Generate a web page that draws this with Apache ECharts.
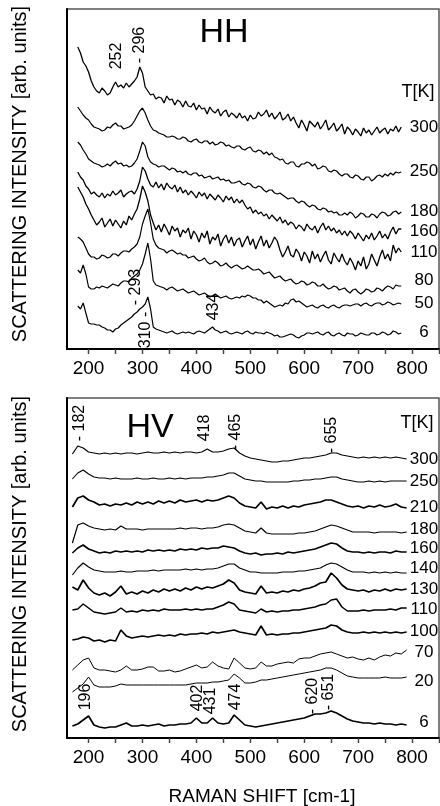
<!DOCTYPE html>
<html><head><meta charset="utf-8">
<script src="https://cdn.jsdelivr.net/npm/echarts@6/dist/echarts.min.js"></script>
<style>html,body{margin:0;padding:0;background:#fff}#c{width:440px;height:806px}</style>
</head><body><div id="c"></div>
<script>
// ---------- HH panel (Raman shift, cm-1, step 5) ----------
const hhShift = [180,185,190,195,200,205,210,215,220,225,230,235,240,245,250,255,260,265,270,275,
 280,285,290,295,300,305,310,315,320,325,330,335,340,345,350,355,360,365,370,375,
 380,385,390,395,400,405,410,415,420,425,430,435,440,445,450,455,460,465,470,475,
 480,485,490,495,500,505,510,515,520,525,530,535,540,545,550,555,560,565,570,575,
 580,585,590,595,600,605,610,615,620,625,630,635,640,645,650,655,660,665,670,675,
 680,685,690,695,700,705,710,715,720,725,730,735,740,745,750,755,760,765,770,775,780];
const hhT = ['300','250','180','160','110','80','50','6'];
const hh300 = [302,296,287,283,277,268,262,258,256,261,258,254,256,262,267,262,264,261,266,262,
 265,268,272,282,276,262,258,254,255,250,252,251,246,253,249,250,244,249,247,242,
 248,243,242,246,239,244,240,241,235,242,238,236,240,233,237,239,232,236,234,231,
 236,231,233,228,234,230,231,237,233,235,239,232,236,230,233,237,229,231,235,228,
 232,226,221,229,224,218,228,225,222,227,220,224,229,219,222,226,218,221,225,215,
 222,219,214,220,217,213,221,216,219,214,218,222,216,219,221,215,220,218,223,217,222];
const hh250 = [242,238,234,231,229,225,222,221,220,218,219,222,221,224,226,223,223,220,221,222,
 224,228,233,238,241,236,229,223,219,218,216,215,214,212,212,213,212,210,210,212,
 211,208,207,209,210,207,206,208,208,205,207,204,205,207,206,203,204,202,201,203,
 203,200,199,201,202,198,197,199,198,195,197,194,196,192,191,189,190,186,185,187,
 187,183,182,185,185,187,186,183,185,180,181,183,182,178,177,179,178,175,173,175,
 175,172,171,174,173,170,169,172,172,168,170,173,174,172,175,173,176,174,177,176,177];
const hh180 = [207,204,199,195,190,188,186,185,184,182,183,185,183,186,188,185,186,183,184,182,
 183,186,190,198,207,203,192,187,185,184,182,183,183,181,179,181,180,177,178,176,
 178,175,174,176,176,173,174,171,172,173,170,171,172,169,170,168,169,166,166,167,
 168,165,164,166,165,162,161,163,162,159,157,159,159,156,155,156,154,152,150,151,
 151,148,146,148,147,144,142,144,143,140,139,141,140,137,138,136,137,134,134,136,
 134,137,135,131,133,136,135,132,132,135,134,131,135,137,136,133,134,137,138,135,137];
const hh160 = [177,172,169,163,160,155,157,154,152,156,151,155,153,158,154,156,159,152,155,157,
 158,155,160,168,182,178,170,164,162,167,161,165,159,166,162,160,164,157,162,156,
 159,154,158,155,151,157,153,156,150,155,152,149,154,151,147,153,149,152,146,150,
 146,149,144,140,142,136,139,135,137,133,135,130,134,131,128,132,126,129,124,127,
 125,120,124,122,118,125,121,119,123,116,122,126,119,123,118,121,116,119,114,118,
 113,118,115,110,116,112,108,114,110,116,109,113,118,111,115,110,117,122,115,120,120];
const hh110 = [162,157,152,145,140,134,129,124,127,131,122,126,130,123,129,125,121,128,124,133,
 129,135,140,150,163,157,148,134,126,119,124,117,125,120,114,123,118,121,112,119,
 116,121,110,118,114,107,116,111,118,105,112,109,115,103,110,114,106,112,103,109,
 111,102,108,113,104,110,100,107,113,103,109,101,106,112,108,99,92,97,103,94,
 92,100,96,88,97,93,86,98,90,95,87,93,98,89,85,96,91,87,95,88,
 84,91,86,79,88,83,92,80,85,95,89,83,92,99,90,95,88,104,96,101,97];
const hh80 = [112,110,107,101,95,92,92,90,91,94,93,91,92,95,95,93,96,98,98,97,
 100,102,105,112,125,133,140,126,110,104,101,100,99,96,98,99,97,95,96,94,
 94,91,92,93,90,88,89,91,87,85,86,88,86,83,84,86,83,81,83,84,
 82,80,81,83,81,79,79,80,78,75,76,77,74,71,72,73,70,68,69,70,
 67,65,66,68,67,64,65,67,66,63,63,65,62,60,61,63,62,59,60,61,
 58,56,59,60,57,55,57,60,59,57,58,61,60,58,61,63,62,60,64,63,63];
const hh50 = [79,76,84,75,62,60,60,62,61,63,62,61,63,65,64,63,66,68,68,67,
 71,73,75,79,85,95,106,90,68,64,63,62,61,59,61,62,60,58,59,60,
 58,56,57,58,56,54,55,56,54,52,53,55,53,51,52,53,51,50,51,52,
 51,53,52,54,53,51,51,49,49,46,48,46,44,42,43,44,43,46,45,49,
 50,47,48,46,44,42,43,44,42,41,43,44,42,41,43,44,42,41,43,44,
 44,43,44,45,45,43,45,46,44,43,45,46,46,44,45,47,46,44,45,46,45];
const hh6 = [43,40,46,36,26,25,25,24,24,22,21,19,19,17,20,21,24,26,28,30,
 32,35,37,40,42,45,52,40,22,20,19,18,17,16,17,18,16,15,16,17,
 16,17,16,15,17,18,17,16,18,20,22,19,18,16,17,18,16,15,16,17,
 16,15,17,18,16,15,17,16,16,15,17,16,15,13,14,12,12,13,14,15,
 14,12,11,13,14,16,16,15,16,17,15,14,16,17,14,13,15,16,14,13,
 16,15,15,13,14,16,15,14,14,16,16,14,15,17,16,14,15,18,17,15,16];

// ---------- HV panel (step 10) ----------
const hvShift = [170,180,190,200,210,220,230,240,250,260,270,280,290,300,310,320,330,340,350,360,370,380,390,400,410,420,430,440,450,460,470,480,490,500,510,520,530,540,550,560,570,580,590,600,610,620,630,640,650,660,670,680,690,700,710,720,730,740,750,760,770,780,790];
const hvT = ['300','250','210','180','160','140','130','110','100','70','20','6'];
const hv300 = [284,292,290,286,285,284,285,284,285,284, 285,285,284,285,286,285,285,286,285,286, 285,286,286,285,286,289,286,286,287,289, 290,285,282,280,279,278,277,276,276,277, 277,278,279,280,280,281,282,283,285,285, 283,282,281,280,281,280,281,280,281,280, 281,280,279];
const hv250 = [259,265,268,264,261,260,260,259,260,259, 259,259,260,259,259,260,259,259,260,259, 260,259,260,260,260,261,261,262,263,265, 265,262,259,258,257,257,256,256,256,256, 256,257,257,258,258,259,259,260,261,261, 259,258,257,256,256,257,256,257,256,257, 257,257,257];
const hv210 = [231,240,242,238,236,233,234,232,234,233, 235,233,236,234,236,234,237,235,237,235, 238,236,237,238,236,238,237,238,240,242, 240,235,232,231,230,236,229,231,230,232, 230,232,231,233,234,235,236,238,238,236, 234,232,231,232,230,232,231,233,231,232, 234,231,230];
const hv180 = [195,213,215,212,210,209,208,209,208,212, 209,209,209,208,209,209,209,209,209,209, 210,209,210,210,209,210,210,211,213,214, 213,210,207,206,205,210,205,204,204,204, 204,204,205,205,206,207,209,211,213,212, 210,208,206,206,206,206,205,206,206,206, 206,205,206];
const hv160 = [185,190,193,189,187,185,186,185,187,186, 187,186,187,186,188,187,188,187,188,187, 189,188,189,188,190,189,190,190,192,191, 190,187,185,184,185,183,184,184,185,184, 186,185,186,187,188,189,191,193,195,194, 190,187,186,186,185,186,185,186,186,185, 187,186,186];
const hv140 = [163,170,175,171,168,167,166,166,166,167, 166,166,167,167,167,168,167,168,168,168, 168,169,168,169,168,169,169,170,172,174, 174,170,168,166,166,165,165,165,165,166, 166,166,167,167,168,169,170,173,175,174, 171,168,166,166,166,165,166,165,166,165, 166,165,165];
const hv130 = [151,148,158,150,145,143,145,142,146,152, 144,146,144,147,145,148,146,149,147,149, 147,150,148,151,149,151,150,152,154,158, 155,148,146,145,144,152,145,146,145,147, 146,148,147,149,150,152,155,156,165,160, 153,149,148,147,148,146,148,147,149,147, 149,148,149];
const hv110 = [128,129,134,130,126,125,124,125,126,130, 126,127,126,128,127,128,127,129,128,128, 128,129,128,129,128,129,129,131,133,136, 134,128,127,126,125,129,126,127,126,127, 127,128,128,129,130,131,133,134,138,139, 131,127,127,127,128,127,128,128,128,129, 128,130,130];
const hv100 = [98,99,101,100,97,98,96,98,97,108, 102,100,101,102,101,102,103,102,103,102, 104,103,104,104,105,104,106,105,106,107, 108,106,105,104,103,112,103,104,103,104, 104,105,105,106,107,108,109,110,113,112, 108,106,105,105,106,105,106,105,106,105, 106,105,106];
const hv70 = [68,73,78,80,70,68,68,67,66,68, 72,68,68,69,71,71,67,67,68,66, 67,69,71,73,70,71,76,72,70,69, 80,75,70,69,70,76,72,72,74,75, 76,75,79,80,80,82,84,85,86,84, 82,80,81,79,78,80,78,81,83,82, 85,84,88];
const hv20 = [46,50,54,61,53,51,51,51,52,54, 53,53,53,53,53,53,53,53,53,53, 53,53,54,55,55,55,56,56,57,58, 64,60,55,55,56,58,58,59,60,61, 62,63,64,65,66,67,68,70,70,68, 65,62,61,60,60,60,60,60,61,60, 60,60,61];
const hv6 = [12,14,18,22,13,11,10,11,11,13, 15,12,12,13,12,13,14,12,13,13, 14,14,15,20,15,15,20,15,14,15, 23,18,13,12,11,12,13,14,15,16, 17,18,19,20,22,24,24,25,27,25, 22,19,17,16,15,15,14,15,14,14, 13,14,13];

const tickVals = [200,250,300,350,400,450,500,550,600,650,700,750,800,850];
const labelVals = [200,300,400,500,600,700,800];

const FONT = "'Liberation Sans', Arial, sans-serif";
const hhCurves = [hh300,hh250,hh180,hh160,hh110,hh80,hh50,hh6];
const hvCurves = [hv300,hv250,hv210,hv180,hv160,hv140,hv130,hv110,hv100,hv70,hv20,hv6];
const hhWidth = [1.3,1.2,1.2,1.3,1.3,1.2,1.2,1.2];
const hvWidth = [1.2,1.1,1.7,1.2,1.6,1.2,1.7,1.5,1.7,1.0,1.0,1.7];

function xBottom(g){
  return {gridIndex:g,type:'value',min:160,max:850,position:'bottom',
    axisLine:{show:true,onZero:false,lineStyle:{color:'#000',width:2}},
    axisTick:{show:true,inside:false,length:5,customValues:tickVals,lineStyle:{color:'#000',width:1.2}},
    axisLabel:{show:true,customValues:labelVals,fontSize:19,color:'#000',fontFamily:FONT,margin:10},
    splitLine:{show:false}};
}
function xTop(g){
  return {gridIndex:g,type:'value',min:160,max:850,position:'top',
    axisLine:{show:false},
    axisTick:{show:true,inside:true,length:5,customValues:tickVals,lineStyle:{color:'#444',width:1.2}},
    axisLabel:{show:false},splitLine:{show:false}};
}
function yAx(g){
  return {gridIndex:g,type:'value',min:0,max:340,
    axisLine:{show:true,onZero:false,lineStyle:{color:'#000',width:2}},
    axisTick:{show:false},axisLabel:{show:false},splitLine:{show:false}};
}
const series = [];
hhCurves.forEach((arr,k)=>{
  series.push({type:'line',name:'HH '+hhT[k]+'K',xAxisIndex:0,yAxisIndex:0,symbol:'none',silent:true,
    lineStyle:{color:'#000',width:hhWidth[k]},data:hhShift.map((x,i)=>[x,arr[i]])});
});
hvCurves.forEach((arr,k)=>{
  series.push({type:'line',name:'HV '+hvT[k]+'K',xAxisIndex:2,yAxisIndex:1,symbol:'none',silent:true,
    lineStyle:{color:'#000',width:hvWidth[k]},data:hvShift.map((x,i)=>[x,arr[i]])});
});

function txt(t,x,y,size,rot){
  return {type:'text',x:x,y:y,rotation:rot?Math.PI/2:0,silent:true,z:100,
    style:{text:t,font:size+'px '+FONT,fill:'#000',align:'center',verticalAlign:'middle',textAlign:'center',textVerticalAlign:'middle'}};
}
const hhLabelY = [127,171,211,231,252,280,303,332];
const hvLabelY = [459,481,507,529,548,568,589,609,631,652,681,722];
const graphics = [
  txt('HH',224,33,34), txt('T[K]',418,92,18),
  txt('HV',150,428,34), txt('T[K]',417,423,18),
  txt('SCATTERING INTENSITY [arb. units]',20,174,20,true),
  txt('SCATTERING INTENSITY [arb. units]',20,564,20,true),
  txt('RAMAN SHIFT [cm-1]',262,797,19),
  txt('252',117,56,16,true), txt('- 296',140,45,16,true),
  txt('- 293',136,287,16,true), txt('310 -',146,330,16,true), txt('434',214,307,16,true),
  txt('- 182',80,423,16,true), txt('418',205,428,16,true), txt('- 465',236,432,16,true), txt('- 655',332,435,16,true),
  txt('196',86,697,16,true), txt('402',198,698,16,true), txt('431',211,701,16,true), txt('474',236,697,16,true),
  txt('- 620',313,696,16,true), txt('- 651',329,692,16,true)
];
hhT.forEach((t,k)=>graphics.push(txt(t,424,hhLabelY[k],17)));
hvT.forEach((t,k)=>graphics.push(txt(t,424,hvLabelY[k],17)));

const chart = echarts.init(document.getElementById('c'),null,{renderer:'canvas'});
chart.setOption({
  animation:false,
  backgroundColor:'#fff',
  grid:[
    {left:67,top:9,width:372,height:340,show:true,borderColor:'#555',borderWidth:1.5,backgroundColor:'transparent'},
    {left:67,top:398,width:372,height:340,show:true,borderColor:'#555',borderWidth:1.5,backgroundColor:'transparent'}
  ],
  xAxis:[xBottom(0),xTop(0),xBottom(1),xTop(1)],
  yAxis:[yAx(0),yAx(1)],
  series:series,
  graphic:graphics
});
</script></body></html>
